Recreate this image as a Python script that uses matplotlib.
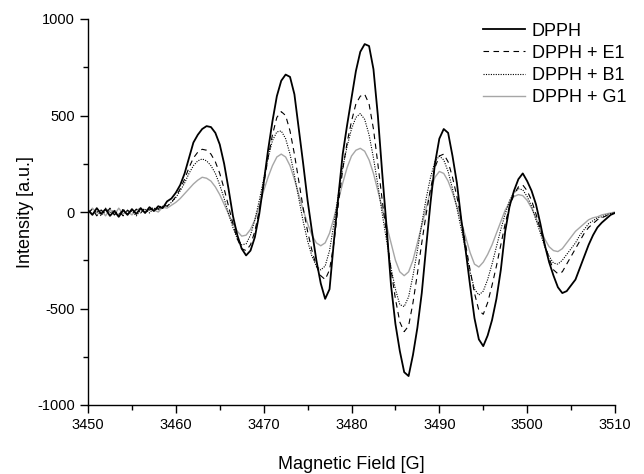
import numpy as np
import matplotlib
matplotlib.use('Agg')
import matplotlib.pyplot as plt
from matplotlib.ticker import MultipleLocator

plt.rcParams['font.family'] = ['Liberation Sans', 'DejaVu Sans']
plt.rcParams['axes.unicode_minus'] = False

# field axis, 0.5 G steps from 3450 to 3510
field = np.arange(3450, 3510.01, 0.5)

dpph = [10, -15, 20, -10, 15, -20, 5, -25, 10, -15,
        15, -10, 20, -5, 25, 5, 30, 20, 55, 70,
        100, 140, 200, 280, 360, 400, 430, 445, 440, 410,
        350, 250, 120, -20, -120, -190, -225, -200, -130, -10,
        150, 320, 470, 600, 680, 712, 700, 610, 430, 250,
        60, -100, -250, -370, -450, -400, -150, 80, 300, 450,
        590, 730, 830, 870, 860, 740, 500, 200, -80, -380,
        -580, -720, -830, -850, -740, -600, -420, -180, 50, 250,
        380, 430, 410, 290, 150, -40, -200, -380, -550, -660,
        -695, -640, -560, -450, -300, -100, 30, 110, 170, 200,
        160, 110, 40, -60, -170, -260, -330, -390, -420, -410,
        -380, -350, -290, -230, -170, -120, -80, -55, -35, -15,
        -5]

dpph_e1 = [-5, 15, -20, 10, -10, 20, -15, 5, -20, 10,
           -10, 15, -5, 20, 10, 25, 15, 40, 30, 50,
           80, 120, 170, 230, 280, 310, 325, 320, 300, 260,
           200, 120, 30, -60, -140, -190, -200, -170, -100, 10,
           140, 280, 400, 490, 520, 500, 420, 300, 160, 20,
           -100, -200, -280, -330, -350, -300, -160, 40, 220, 360,
           470, 560, 600, 610, 560, 430, 250, 60, -120, -300,
           -450, -570, -620, -590, -470, -320, -160, -10, 120, 230,
           290, 300, 260, 180, 80, -40, -170, -300, -420, -510,
           -530, -470, -380, -280, -170, -60, 30, 90, 130, 140,
           110, 60, -10, -90, -170, -240, -300, -320, -310, -270,
           -230, -190, -150, -110, -80, -60, -40, -30, -20, -10,
           -5]

dpph_b1 = [15, -10, 5, -20, 20, -5, 10, -15, 15, -10,
           5, -20, 10, 15, -5, 20, 10, 30, 30, 50,
           75, 110, 150, 200, 240, 265, 275, 265, 240, 200,
           140, 70, -10, -80, -140, -170, -165, -120, -40, 60,
           170, 280, 370, 415, 420, 380, 300, 190, 70, -50,
           -150, -230, -280, -300, -280, -200, -60, 90, 230, 340,
           430, 490, 510, 480, 400, 280, 140, -10, -150, -290,
           -400, -480, -490, -440, -330, -200, -60, 70, 180, 260,
           290, 270, 210, 120, 20, -90, -200, -310, -400, -430,
           -410, -350, -270, -180, -90, -10, 60, 100, 120, 115,
           80, 30, -40, -110, -180, -230, -265, -270, -250, -220,
           -190, -160, -120, -90, -60, -45, -30, -25, -15, -8,
           -5]

dpph_g1 = [-10, 20, -5, 10, -20, 15, -15, 20, -10, 5,
           -15, 10, 20, -5, 15, 10, 0, 25, 20, 35,
           50, 70, 95, 120, 145, 165, 180, 175, 160, 130,
           90, 40, -10, -60, -100, -125, -120, -90, -40, 30,
           110, 180, 240, 285, 300, 285, 240, 170, 90, 10,
           -60, -120, -160, -175, -160, -110, -30, 60, 150, 230,
           290, 320, 330, 315, 270, 200, 110, 20, -70, -160,
           -250, -310, -330, -310, -250, -160, -70, 20, 110, 180,
           210, 200, 160, 100, 30, -50, -130, -210, -270, -285,
           -260, -220, -170, -110, -50, 10, 50, 80, 90, 85,
           60, 20, -30, -90, -140, -180, -200, -205, -190, -160,
           -130, -100, -80, -60, -40, -30, -25, -15, -10, -5,
           0]

labels = ['DPPH', 'DPPH + E1', 'DPPH + B1', 'DPPH + G1']

fig = plt.figure(figsize=(6.44, 4.74), dpi=100)
ax = fig.add_axes([88/644, 69/474, 527/644, 386/474])

ax.plot(field, dpph_g1, color='#a6a6a6', lw=1.0, zorder=2, label=labels[3])
ax.plot(field, dpph_b1, color='black', lw=0.8, ls=(0, (1, 1.2)), zorder=3, label=labels[2])
ax.plot(field, dpph_e1, color='black', lw=0.8, ls=(0, (5, 4)), zorder=4, label=labels[1])
ax.plot(field, dpph, color='black', lw=1.3, zorder=5, label=labels[0])

ax.set_xlim(3450, 3510)
ax.set_ylim(-1000, 1000)
ax.xaxis.set_major_locator(MultipleLocator(10))
ax.xaxis.set_minor_locator(MultipleLocator(5))
ax.yaxis.set_major_locator(MultipleLocator(500))
ax.yaxis.set_minor_locator(MultipleLocator(250))

ax.spines['top'].set_visible(False)
ax.spines['right'].set_visible(False)
ax.spines['left'].set_linewidth(1.0)
ax.spines['bottom'].set_linewidth(1.0)
ax.tick_params(which='major', direction='out', length=6, width=1.0,
               labelsize=10.5, pad=3.5)
ax.tick_params(which='minor', direction='out', length=3.5, width=1.0)

ax.set_xlabel('Magnetic Field [G]', fontsize=13, labelpad=17)
ax.set_ylabel('Intensity [a.u.]', fontsize=13, labelpad=2)

h, l = ax.get_legend_handles_labels()
order = [3, 2, 1, 0]
ax.legend([h[i] for i in order], [l[i] for i in order],
          loc='upper left', bbox_to_anchor=(483/644, 0.952),
          bbox_transform=fig.transFigure, frameon=False, fontsize=13,
          handlelength=2.3, handletextpad=0.4, labelspacing=0.28,
          borderpad=0, borderaxespad=0)

plt.savefig('out.png', dpi=100)
